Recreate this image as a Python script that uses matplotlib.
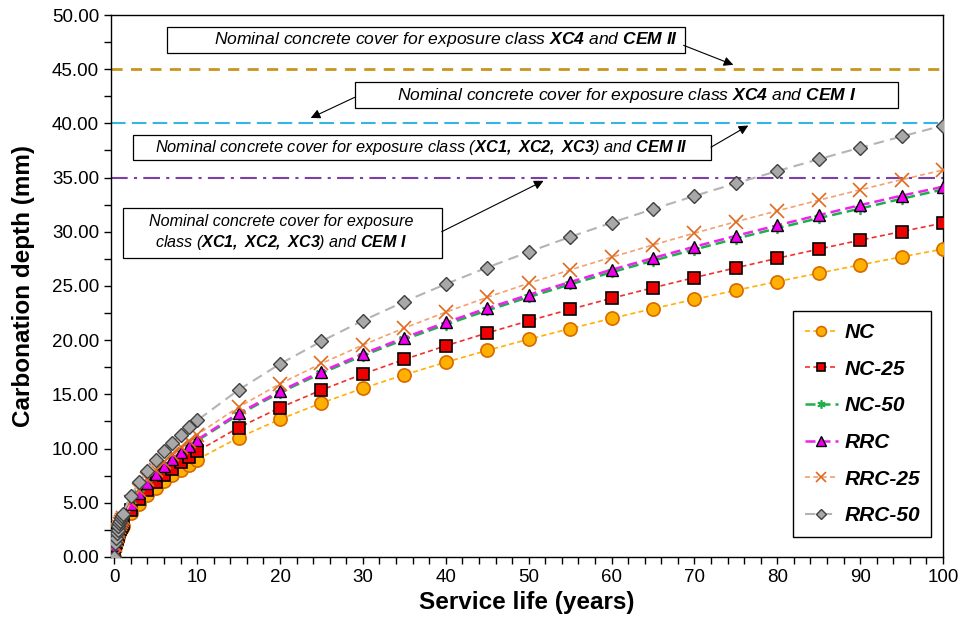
import matplotlib
matplotlib.use("Agg")
import matplotlib.pyplot as plt
from matplotlib.patches import Rectangle
from matplotlib.ticker import MultipleLocator, FormatStrFormatter

plt.rcParams['font.family'] = ['Liberation Sans', 'DejaVu Sans']
plt.rcParams['mathtext.fontset'] = 'custom'
plt.rcParams['mathtext.rm'] = 'Liberation Sans:italic'
plt.rcParams['mathtext.it'] = 'Liberation Sans:italic'
plt.rcParams['mathtext.bf'] = 'Liberation Sans:bold:italic'

# service life (years)
years = [0, 0.1, 0.2, 0.3, 0.4, 0.5, 0.6, 0.7, 0.8, 0.9, 1,
         2, 3, 4, 5, 6, 7, 8, 9, 10,
         15, 20, 25, 30, 35, 40, 45, 50, 55, 60, 65, 70, 75, 80, 85, 90, 95, 100]

# carbonation depth (mm)
nc = [0, 0.90, 1.27, 1.56, 1.80, 2.01, 2.20, 2.38, 2.54, 2.69, 2.84,
      4.02, 4.92, 5.68, 6.35, 6.96, 7.51, 8.03, 8.52, 8.98,
      11.00, 12.70, 14.20, 15.56, 16.80, 17.96, 19.05, 20.08, 21.06, 22.00,
      22.90, 23.76, 24.60, 25.40, 26.18, 26.94, 27.68, 28.40]
nc_25 = [0, 0.97, 1.38, 1.69, 1.95, 2.18, 2.39, 2.58, 2.75, 2.92, 3.08,
         4.36, 5.33, 6.16, 6.89, 7.54, 8.15, 8.71, 9.24, 9.74,
         11.93, 13.77, 15.40, 16.87, 18.22, 19.48, 20.66, 21.78, 22.84, 23.86,
         24.83, 25.77, 26.67, 27.55, 28.40, 29.22, 30.02, 30.80]
nc_50 = [0, 1.07, 1.52, 1.86, 2.14, 2.40, 2.63, 2.84, 3.03, 3.22, 3.39,
         4.79, 5.87, 6.78, 7.58, 8.30, 8.97, 9.59, 10.17, 10.72,
         13.13, 15.16, 16.95, 18.57, 20.06, 21.44, 22.74, 23.97, 25.14, 26.26,
         27.33, 28.36, 29.36, 30.32, 31.25, 32.14, 33.04, 33.90]
rrc = [0, 1.08, 1.53, 1.87, 2.16, 2.42, 2.65, 2.86, 3.06, 3.24, 3.42,
       4.84, 5.92, 6.84, 7.65, 8.38, 9.05, 9.67, 10.26, 10.81,
       13.25, 15.29, 17.10, 18.73, 20.23, 21.63, 22.94, 24.18, 25.36, 26.49,
       27.57, 28.62, 29.62, 30.59, 31.53, 32.45, 33.33, 34.15]
rrc_25 = [0, 1.13, 1.60, 1.96, 2.26, 2.52, 2.77, 2.99, 3.19, 3.39, 3.57,
          5.05, 6.18, 7.14, 7.98, 8.74, 9.45, 10.10, 10.71, 11.29,
          13.83, 15.97, 17.85, 19.55, 21.12, 22.58, 23.95, 25.24, 26.48, 27.65,
          28.78, 29.87, 30.92, 31.93, 32.91, 33.87, 34.80, 35.70]
rrc_50 = [0, 1.26, 1.78, 2.18, 2.52, 2.81, 3.08, 3.33, 3.56, 3.78, 3.98,
          5.63, 6.89, 7.96, 8.90, 9.75, 10.53, 11.26, 11.94, 12.59,
          15.41, 17.80, 19.90, 21.80, 23.55, 25.17, 26.70, 28.14, 29.52, 30.83,
          32.09, 33.30, 34.47, 35.60, 36.69, 37.76, 38.79, 39.80]

# nominal concrete covers (mm)
cover_xc4_cem2 = 45
cover_xc4_cem1 = 40
cover_xc123_cem2 = 35

fig = plt.figure(figsize=(9.6, 6.25), dpi=100)
ax = fig.add_axes([0.1156, 0.109, 0.8667, 0.867])

ax.axhline(cover_xc4_cem2, color='#C8961E', lw=2, ls=(0, (4, 3)), zorder=1)
ax.axhline(cover_xc4_cem1, color='#35B4E6', lw=1.5, ls=(0, (7, 3)), zorder=1)
ax.axhline(cover_xc123_cem2, color='#7B3FA8', lw=1.5, ls=(0, (8, 3, 1.5, 3)), zorder=1)

series = [
    ('NC', nc, dict(color='#FFB000', ls=(0, (3, 2)), lw=1.2, marker='o', ms=9.5,
                    mfc='#FFB000', mec='#D66A00', mew=1.2)),
    ('NC-25', nc_25, dict(color='#F03030', ls=(0, (3, 2)), lw=1.2, marker='s', ms=8,
                          mfc='#EE0000', mec='black', mew=1.2)),
    ('NC-50', nc_50, dict(color='#1DB04A', ls=(0, (4, 2)), lw=1.8, marker=(6, 2, 0), ms=8,
                          mfc='#1DB04A', mec='#1DB04A', mew=1.2)),
    ('RRC', rrc, dict(color='#F020F0', ls=(0, (4, 2)), lw=1.8, marker='^', ms=9,
                      mfc='#EE00EE', mec='black', mew=1.0)),
    ('RRC-25', rrc_25, dict(color='#F4A070', ls=(0, (3, 2)), lw=1.2, marker='x', ms=10,
                            mfc='none', mec='#E06A20', mew=1.2)),
    ('RRC-50', rrc_50, dict(color='#B4B4B4', ls=(0, (5, 3)), lw=1.5, marker='D', ms=7,
                            mfc='#A8A8A8', mec='#404040', mew=1.0)),
]
for label, values, style in series:
    ax.plot(years, values, label=label, zorder=3, **style)

ax.set_xlim(-0.4, 100)
ax.set_ylim(0, 50)
ax.xaxis.set_major_locator(MultipleLocator(10))
ax.xaxis.set_minor_locator(MultipleLocator(2))
ax.yaxis.set_major_locator(MultipleLocator(5))
ax.yaxis.set_minor_locator(MultipleLocator(2.5))
ax.yaxis.set_major_formatter(FormatStrFormatter('%.2f'))
ax.tick_params(which='both', direction='out', labelsize=13.5, width=1)
ax.tick_params(which='major', length=5)
ax.tick_params(which='minor', length=5)
for sp in ax.spines.values():
    sp.set_linewidth(1)
ax.set_xlabel('Service life (years)', fontsize=17.5, fontweight='bold', labelpad=4)
ax.set_ylabel('Carbonation depth (mm)', fontsize=17.5, fontweight='bold', labelpad=12)

leg = ax.legend(loc='lower right', bbox_to_anchor=(0.986, 0.037), borderaxespad=0,
                fancybox=False, edgecolor='black', framealpha=1, handlelength=1.6,
                markerscale=0.75, labelspacing=0.85, borderpad=0.55, handletextpad=0.3,
                prop=dict(size=15, weight='bold', style='italic'))
leg.get_frame().set_linewidth(1)

# annotation boxes with arrows pointing at the cover lines
notes = [
    (r'Nominal concrete cover for exposure class $\mathbf{XC4}$ and $\mathbf{CEM}$ $\mathbf{II}$',
     12.6, (6.3, 46.5, 62.6, 2.4), (40.0, 47.7), (68.7, 47.2), (74.7, 45.4)),
    (r'Nominal concrete cover for exposure class $\mathbf{XC4}$ and $\mathbf{CEM}$ $\mathbf{I}$',
     12.6, (29.0, 41.4, 65.6, 2.4), (61.8, 42.6), (29.0, 42.4), (23.7, 40.5)),
    (r'Nominal concrete cover for exposure class ($\mathbf{XC1,}$ $\mathbf{XC2,}$ $\mathbf{XC3}$)'
     r' and $\mathbf{CEM}$ $\mathbf{II}$',
     11.8, (2.2, 36.6, 69.8, 2.3), (37.1, 37.75), (72.0, 37.8), (76.5, 39.8)),
    ('Nominal concrete cover for exposure\n'
     r'class ($\mathbf{XC1,}$ $\mathbf{XC2,}$ $\mathbf{XC3}$) and $\mathbf{CEM}$ $\mathbf{I}$',
     11.6, (1.0, 27.6, 38.5, 4.6), (20.1, 29.9), (39.5, 30.0), (51.8, 34.7)),
]
for text, size, box, center, start, end in notes:
    ax.add_patch(Rectangle(box[:2], box[2], box[3], fc='white', ec='black',
                           lw=0.9, zorder=4))
    ax.text(center[0], center[1], text, ha='center', va='center', fontsize=size,
            fontstyle='italic', linespacing=1.25, zorder=5)
    ax.annotate('', xy=end, xytext=start, zorder=5,
                arrowprops=dict(arrowstyle='-|>', color='black', lw=0.8,
                                mutation_scale=14, shrinkA=0, shrinkB=0))

fig.savefig('out.png', dpi=100)
